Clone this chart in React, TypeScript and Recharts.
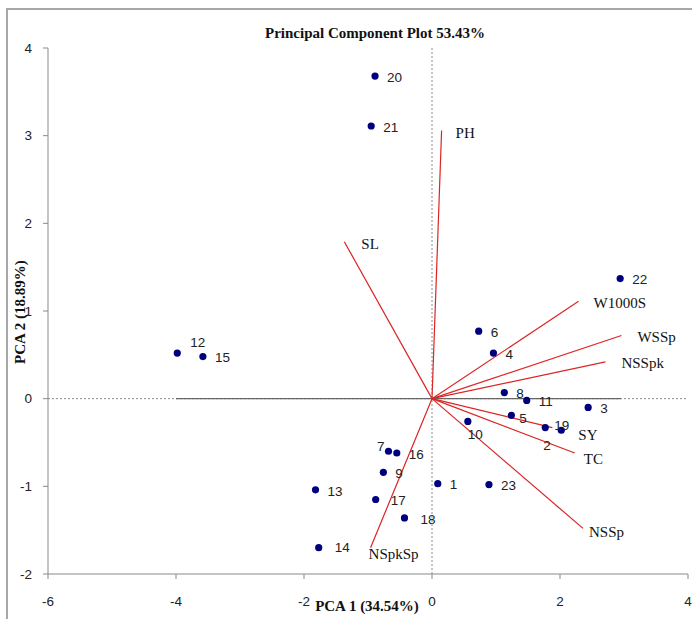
import React from 'react';
import { ScatterChart, Scatter, XAxis, YAxis, ReferenceLine } from 'recharts';

// genotype scores
const pointNames = ['1', '2', '3', '4', '5', '6', '7', '8', '9', '10', '11', '12', '13', '14', '15', '16', '17', '18', '19', '20', '21', '22', '23'];
const pc1Scores = [0.09, 2.02, 2.44, 0.96, 1.24, 0.73, -0.68, 1.13, -0.76, 0.56, 1.48, -3.98, -1.82, -1.77, -3.58, -0.55, -0.88, -0.43, 1.77, -0.89, -0.95, 2.94, 0.89];
const pc2Scores = [-0.97, -0.36, -0.1, 0.52, -0.19, 0.77, -0.6, 0.07, -0.84, -0.26, -0.02, 0.52, -1.04, -1.7, 0.48, -0.62, -1.15, -1.36, -0.33, 3.68, 3.11, 1.37, -0.98];

// trait loadings (vectors)
const traitNames = ['PH', 'SL', 'W1000S', 'WSSp', 'NSSpk', 'SY', 'TC', 'NSSp', 'NSpkSp'];
const traitPc1 = [0.15, -1.37, 2.29, 2.96, 2.71, 1.88, 2.23, 2.36, -0.96];
const traitPc2 = [3.06, 1.79, 1.11, 0.72, 0.42, -0.33, -0.62, -1.48, -1.7];

const xTicks = [-6, -4, -2, 0, 2, 4];
const yTicks = [-2, -1, 0, 1, 2, 3, 4];

const points = pointNames.map((name, i) => ({ name, x: pc1Scores[i], y: pc2Scores[i] }));
const traits = traitNames.map((name, i) => ({ name, x: traitPc1[i], y: traitPc2[i] }));

// label placement tweaks (pixels)
const pointLabelOffset: Record<string, [number, number, string?]> = {
  '12': [13, -11],
  '7': [-4, -5, 'end'],
  '10': [0, 13],
  '2': [-18, 15],
  '19': [9, -2],
  '14': [16, 0],
  '17': [15, 1],
  '18': [16, 1],
  '5': [8, 3],
};
const traitLabelOffset: Record<string, [number, number]> = {
  PH: [14, 2],
  SL: [17, 2],
  W1000S: [15, 1],
  WSSp: [16, 1],
  NSSpk: [16, 1],
  SY: [26, 7],
  TC: [9, 6],
  NSSp: [6, 3],
  NSpkSp: [-2, 6],
};

const axisGrey = '#8a8a8a';
const vectorRed = '#dc2424';
const serif = '"Liberation Serif", "Times New Roman", serif';
const sans = '"Liberation Sans", Arial, sans-serif';

const GenotypeDot = (props: any) => {
  const { cx, cy, payload } = props;
  const off = pointLabelOffset[payload.name] || [12, 1];
  return (
    <g>
      <circle cx={cx} cy={cy} r={3.6} fill="#00007e" />
      <text
        x={cx + off[0]}
        y={cy + off[1]}
        dy="0.35em"
        textAnchor={off[2] || 'start'}
        fontFamily={sans}
        fontSize={13.5}
        fill="#222"
      >
        {payload.name}
      </text>
    </g>
  );
};

const TraitLabel = (props: any) => {
  const { cx, cy, payload } = props;
  const off = traitLabelOffset[payload.name] || [14, 0];
  return (
    <text x={cx + off[0]} y={cy + off[1]} dy="0.35em" fontFamily={serif} fontSize={15} fill="#111">
      {payload.name}
    </text>
  );
};

const App: React.FC = () => {
  return (
    <div style={{ position: 'absolute', left: 0, top: 0, width: 692, height: 619, background: '#fff', overflow: 'hidden' }}>
      <div style={{ position: 'absolute', left: 6, top: 8, width: 800, height: 800, borderLeft: '2px solid #a8a8a8', borderTop: '2px solid #a8a8a8' }} />
      <div
        style={{
          position: 'absolute', left: 375, top: 33, transform: 'translate(-50%, -50%)',
          fontFamily: serif, fontWeight: 'bold', fontSize: 15, whiteSpace: 'nowrap', color: '#111',
        }}
      >
        Principal Component Plot 53.43%
      </div>
      <div style={{ position: 'absolute', left: 0, top: 0 }}>
        <ScatterChart width={692} height={619} margin={{ top: 48, right: 4, bottom: 15, left: 8 }}>
          <XAxis
            type="number"
            dataKey="x"
            domain={[-6, 4]}
            ticks={xTicks}
            height={30}
            allowDataOverflow
            axisLine={{ stroke: axisGrey }}
            tickLine={{ stroke: axisGrey }}
            tickSize={5}
            tickMargin={17}
            tick={{ fontFamily: sans, fontSize: 13.5, fill: '#222' }}
          />
          <YAxis
            type="number"
            dataKey="y"
            domain={[-2, 4]}
            ticks={yTicks}
            width={40}
            allowDataOverflow
            axisLine={{ stroke: axisGrey }}
            tickLine={{ stroke: axisGrey }}
            tickSize={5}
            tickMargin={11}
            tick={{ fontFamily: sans, fontSize: 13.5, fill: '#222' }}
          />
          <ReferenceLine x={0} stroke="#8a8a8a" strokeDasharray="2 2" />
          <ReferenceLine y={0} stroke="#8a8a8a" strokeDasharray="2 2" />
          <ReferenceLine segment={[{ x: -4, y: 0 }, { x: 2.95, y: 0 }]} stroke="#666" strokeWidth={1.2} />
          {traits.map((t) => (
            <ReferenceLine
              key={t.name}
              segment={[{ x: 0, y: 0 }, { x: t.x, y: t.y }]}
              stroke={vectorRed}
              strokeWidth={1.2}
            />
          ))}
          <Scatter data={traits} shape={TraitLabel} isAnimationActive={false} />
          <Scatter data={points} shape={GenotypeDot} isAnimationActive={false} />
        </ScatterChart>
      </div>
      <div
        style={{
          position: 'absolute', left: 20, top: 312, transform: 'translate(-50%, -50%) rotate(-90deg)',
          fontFamily: serif, fontWeight: 'bold', fontSize: 15, whiteSpace: 'nowrap', color: '#111',
        }}
      >
        PCA 2 (18.89%)
      </div>
      <div
        style={{
          position: 'absolute', left: 367, top: 606, transform: 'translate(-50%, -50%)',
          fontFamily: serif, fontWeight: 'bold', fontSize: 15, whiteSpace: 'nowrap', color: '#111',
        }}
      >
        PCA 1 (34.54%)
      </div>
    </div>
  );
};

export default App;
